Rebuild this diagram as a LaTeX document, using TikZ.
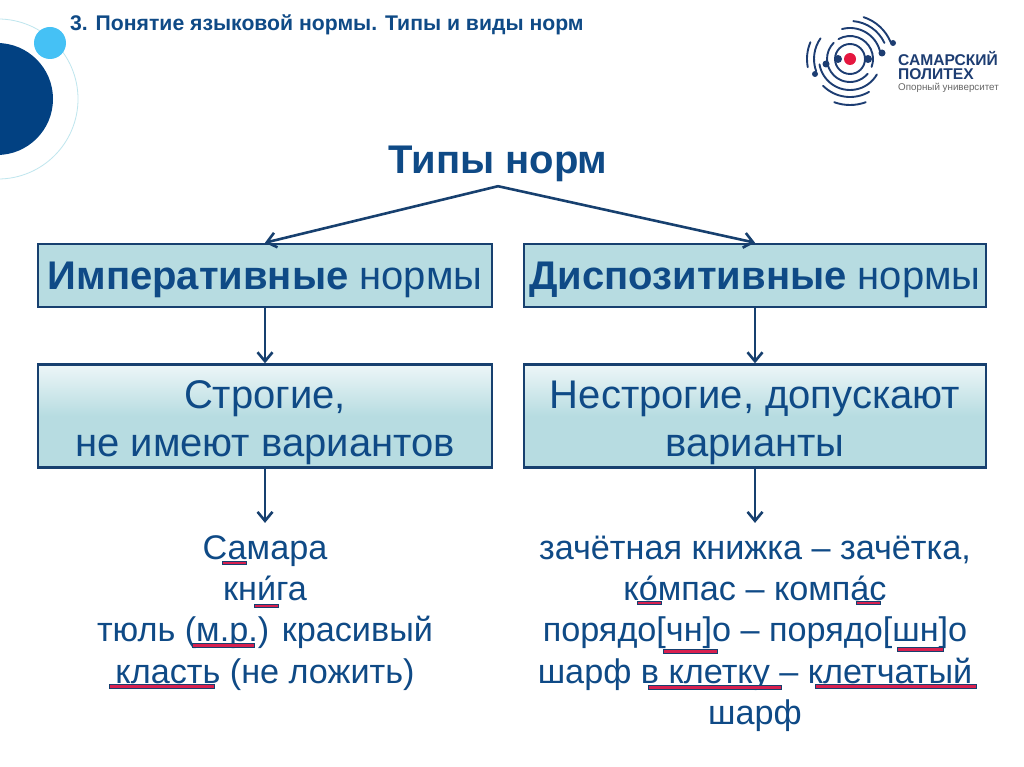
\documentclass[tikz,border=0pt]{standalone}
\usepackage{fontspec}
\setmainfont{Liberation Sans}
\usepackage{xcolor}
\usetikzlibrary{positioning, arrows.meta}
\definecolor{navyText}{HTML}{0F4A86}
\definecolor{navyLine}{HTML}{17406F}
\definecolor{deepBlue}{HTML}{024182}
\definecolor{skyBlue}{HTML}{45C1F5}
\definecolor{ringBlue}{HTML}{BFE6EE}
\definecolor{boxFill}{HTML}{B7DCE1}
\definecolor{markRed}{HTML}{D8204F}
\definecolor{logoNavy}{HTML}{1D3D72}
\definecolor{logoRed}{HTML}{E5173F}

\begin{document}
\begin{tikzpicture}[
        x=1pt, y=-1pt,
        every node/.style={text=navyText, inner sep=0pt},
        normBox/.style={rectangle, draw=navyLine, line width=2.6pt, fill=boxFill,
                        minimum width=454pt, minimum height=63pt, align=center,
                        font=\fontsize{40}{48}\selectfont},
        softBox/.style={normBox, minimum height=103pt, fill=none,
                        top color=boxFill!25, bottom color=boxFill, middle color=boxFill},
        exList/.style={align=center, inner ysep=9pt, font=\fontsize{34.2}{41.3}\selectfont},
        flow/.style={draw=navyLine, line width=2.6pt, -{Straight Barb[length=9pt, width=15pt]}},
        markLine/.style={draw=navyLine, line width=0.5pt, fill=markRed},
        logoArc/.style={draw=logoNavy, line width=1.9pt, line cap=round},
        logoDot/.style={circle, fill=logoNavy, minimum size=8pt},
      ]
        \useasboundingbox (0,0) rectangle (1024,767);
        \fill[white] (0,0) rectangle (1024,767);

        % corner circles
        \draw[ringBlue, line width=0.8pt] (-2,99) circle[radius=80pt];
        \fill[deepBlue] (-3,99) circle[radius=56pt];
        \fill[skyBlue] (50,43) circle[radius=16pt];

        \node[anchor=west, font=\fontsize{21.2}{24}\selectfont\bfseries] (title) at (70,25)
              {3. Понятие языковой нормы. Типы и виды норм};

        % logo
        \coordinate (logoC) at (850,59);
        \foreach \r/\a/\b in {44/22/72, 38/25/85, 31/15/105, 43/157/191, 36/145/200, 46/250/290,
                              38/225/300, 31/190/330, 23/-20/120, 23/135/320, 15/0/360}
          \draw[logoArc] (logoC) ++(\a:\r pt) arc[start angle=\a, end angle=\b, radius=\r pt];
        \node[circle, fill=logoRed, minimum size=12pt] (logoCore) at (logoC) {};
        \node[logoDot] (dotA) at (838,59) {};
        \node[logoDot] (dotB) at (868,59) {};
        \node[logoDot, minimum size=7pt] (dotC) at (826,64) {};
        \node[logoDot, minimum size=7pt] (dotD) at (882,53) {};
        \node[logoDot, minimum size=6pt] (dotE) at (815,74) {};
        \node[logoDot, minimum size=6pt] (dotF) at (893,43) {};
        \node[anchor=base west, text=logoNavy, font=\fontsize{15.6}{16}\selectfont\bfseries] (logoA) at (898,66) {САМАРСКИЙ};
        \node[anchor=base west, text=logoNavy, font=\fontsize{15.6}{16}\selectfont\bfseries] (logoB) at (898,80) {ПОЛИТЕХ};
        \node[anchor=base west, text=black!60, font=\fontsize{9.8}{10}\selectfont] (logoD) at (898,91) {Опорный университет};

        % tree
        \node[font=\fontsize{40}{44}\selectfont\bfseries, minimum height=44pt] (types) at (498,164) {Типы норм};

        \node[normBox] (imp) at (265,275.5) {\rule{0pt}{36pt}\textbf{Императивные} нормы};
        \node[normBox, minimum width=462pt] (disp) at (755,275.5) {\rule{0pt}{36pt}\textbf{Диспозитивные} нормы};

        \node[softBox, below=55pt of imp] (strict) {\rule{0pt}{42pt}Строгие,\\не имеют вариантов};
        \node[softBox, minimum width=462pt, below=55pt of disp] (loose) {\rule{0pt}{42pt}Нестрогие, допускают\\варианты};

        \node[exList, below=54pt of strict] (exL) {\rule{0pt}{27pt}Самара\\кни́га\\тюль (м.р.) красивый\\класть (не ложить)};
        \node[exList, below=54pt of loose] (exR) {\rule{0pt}{27pt}зачётная книжка – зачётка,\\ко́мпас – компа́с\\порядо[чн]о – порядо[шн]о\\шарф в клетку – клетчатый\\шарф};

        \draw[flow] (types.south) -- (imp.north);
        \draw[flow] (types.south) -- (disp.north);
        \draw[flow] (imp) -- (strict);
        \draw[flow] (disp) -- (loose);
        \draw[flow] (strict) -- (exL);
        \draw[flow] (loose) -- (exR);

        % red marks
        \draw[markLine] (222,561) rectangle (246,564);
        \draw[markLine] (254,604) rectangle (278,607);
        \draw[markLine] (192,643) rectangle (254,647);
        \draw[markLine] (109,684) rectangle (214,688);
        \draw[markLine] (637,601) rectangle (661,604);
        \draw[markLine] (856,601) rectangle (880,604);
        \draw[markLine] (663,649) rectangle (717,653);
        \draw[markLine] (897,647) rectangle (943,651);
        \draw[markLine] (648,685) rectangle (781,689);
        \draw[markLine] (815,684) rectangle (976,688);
      \end{tikzpicture}
\end{document}
